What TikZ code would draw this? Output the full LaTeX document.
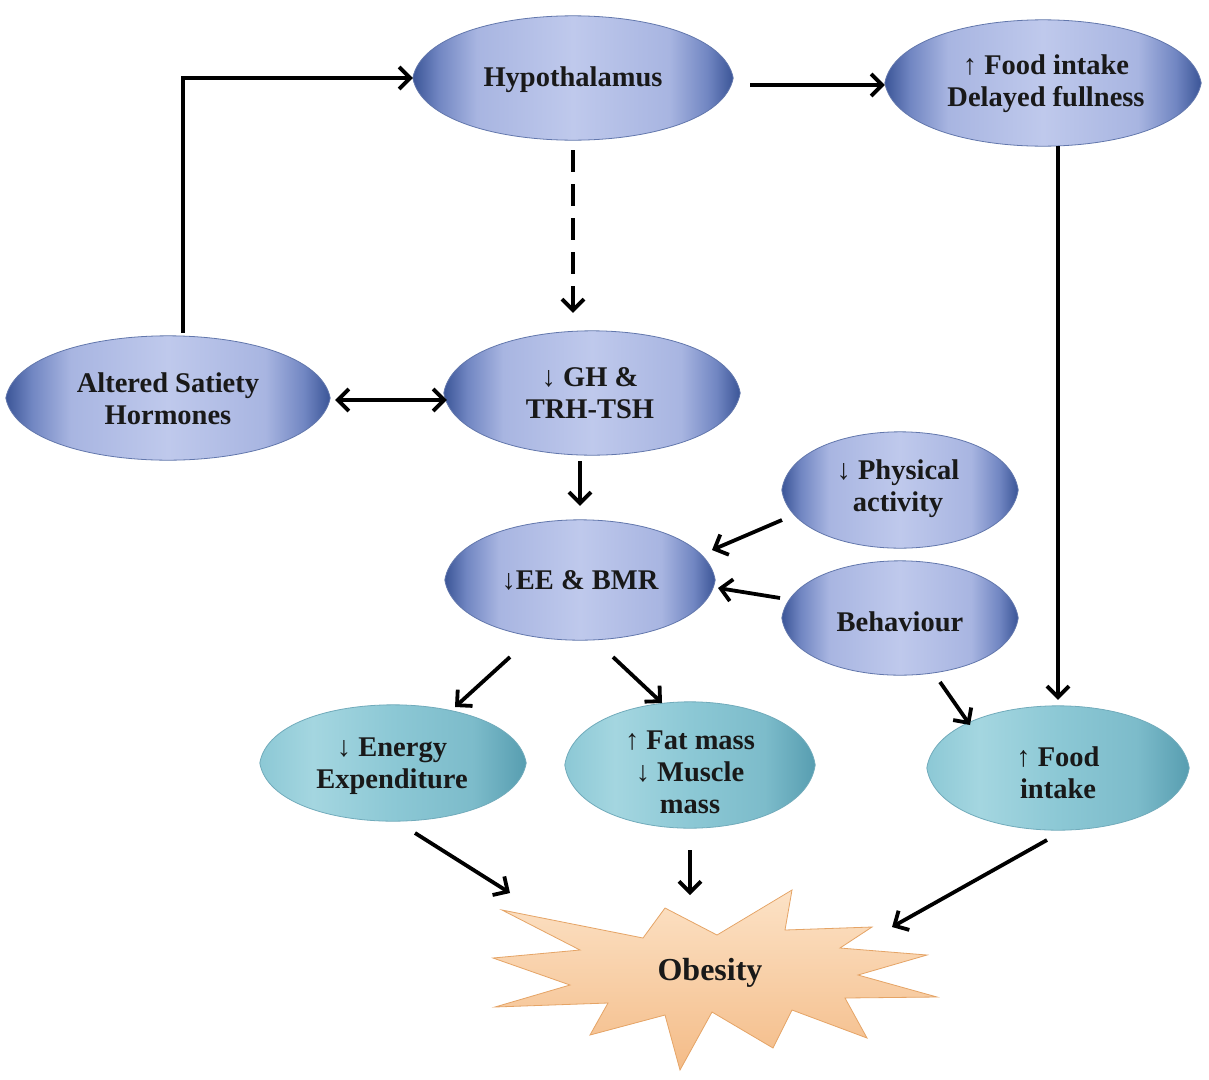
\documentclass[tikz,border=0pt]{standalone}
\usepackage{fontspec}
\setmainfont{Liberation Serif}
\usetikzlibrary{arrows.meta,calc,backgrounds,shapes.geometric}
\definecolor{bD}{HTML}{3B5597}
\definecolor{bM}{HTML}{7186C2}
\definecolor{bL}{HTML}{A8B5E1}
\definecolor{bC}{HTML}{BFC9EC}
\definecolor{tL}{HTML}{A4D6E0}
\definecolor{tM}{HTML}{8CC8D5}
\definecolor{tD}{HTML}{4E96AA}
\definecolor{pkT}{HTML}{FCE2C6}
\definecolor{pkB}{HTML}{F4BC88}
\definecolor{pkE}{HTML}{E5A466}
\pgfdeclarehorizontalshading{lensblue}{100bp}{color(0bp)=(bD); color(25bp)=(bD); color(29bp)=(bM); color(35bp)=(bL); color(50bp)=(bC); color(65bp)=(bL); color(71bp)=(bM); color(75bp)=(bD); color(100bp)=(bD)}
\pgfdeclarehorizontalshading{lensteal}{100bp}{color(0bp)=(tM); color(25bp)=(tM); color(35bp)=(tL); color(50bp)=(tM); color(65bp)=(tM!75!tD); color(75bp)=(tD!85!tM); color(100bp)=(tD)}
\newcommand\lensfill[3]{%
  \path[shading=#2, draw=#3, line width=0.8pt] (#1.west)
   .. controls ($(#1.west)!0.05!(#1.east)+1.333*(#1.north)-1.333*(#1.center)$) and ($(#1.east)!0.05!(#1.west)+1.333*(#1.north)-1.333*(#1.center)$) .. (#1.east)
   .. controls ($(#1.east)!0.05!(#1.west)+1.333*(#1.south)-1.333*(#1.center)$) and ($(#1.west)!0.05!(#1.east)+1.333*(#1.south)-1.333*(#1.center)$) .. (#1.west) -- cycle;}
\tikzset{
  shp/.style={ellipse, inner sep=0pt, draw=none},
  txt/.style={align=center, inner sep=0pt, font=\bfseries\fontsize{28.5}{32}\selectfont, text=black!90},
  arr/.style={line width=3.8pt, -{Straight Barb[length=11pt,width=22pt]}},
  darr/.style={line width=3.8pt, {Straight Barb[length=11pt,width=22pt]}-{Straight Barb[length=11pt,width=22pt]}}
}
\begin{document}
\begin{tikzpicture}[x=1pt,y=-1pt]
\useasboundingbox[fill=white] (0,0) rectangle (1209,1079);
% shapes
\node[shp, minimum width=320, minimum height=124] (hyp) at (573,78) {};
\node[shp, minimum width=316, minimum height=126] (food1) at (1043,83) {};
\node[shp, minimum width=324, minimum height=124] (alt) at (168,398) {};
\node[shp, minimum width=296, minimum height=124] (gh) at (592,393) {};
\node[shp, minimum width=236, minimum height=116] (phys) at (900,490) {};
\node[shp, minimum width=236, minimum height=114] (beh) at (900,618) {};
\node[shp, minimum width=270, minimum height=120] (ee) at (580,580) {};
\node[shp, minimum width=266, minimum height=116] (enx) at (393,763) {};
\node[shp, minimum width=250, minimum height=126] (fat) at (690,765) {};
\node[shp, minimum width=262, minimum height=124] (food2) at (1058,768) {};
\foreach \n in {hyp,food1,alt,gh,phys,beh,ee}{\lensfill{\n}{lensblue}{bD!80}}
\foreach \n in {enx,fat,food2}{\lensfill{\n}{lensteal}{tD!80}}
% starburst
\path[top color=pkT, bottom color=pkB, draw=pkE, line width=0.8pt]
 (502,910) -- (643,938) -- (665,908) -- (717,935) -- (792,890) -- (785,930) -- (872,927) -- (840,948) -- (927,955) -- (858,975) -- (937,997) -- (845,998) -- (867,1038) -- (792,1010) -- (773,1048) -- (712,1012) -- (680,1070) -- (665,1015) -- (590,1035) -- (608,1003) -- (495,1007) -- (570,985) -- (493,958) -- (580,950) -- cycle;
\node[txt, font=\bfseries\fontsize{32}{36}\selectfont] (obe) at (710,973) {Obesity};
% texts
\node[txt] (hyptxt) at (573,80) {Hypothalamus};
\node[txt] (food1txt) at (1046,84) {↑ Food intake\\Delayed fullness};
\node[txt] (alttxt) at (168,399) {Altered Satiety\\Hormones};
\node[txt] (ghtxt) at (590,393) {↓ GH \&\\TRH-TSH};
\node[txt] (phystxt) at (898,489) {↓ Physical\\activity};
\node[txt] (behtxt) at (900,622) {Behaviour};
\node[txt] (eetxt) at (580,580) {↓EE \& BMR};
\node[txt] (enxtxt) at (392,766) {↓ Energy\\Expenditure};
\node[txt] (fattxt) at (690,772) {↑ Fat mass\\↓ Muscle\\mass};
\node[txt] (food2txt) at (1058,773) {↑ Food\\intake};
% connectors
\draw[arr] ($(alt)+(15,-65)$) |- (hyp.west);
\draw[arr] ($(hyp.east |- food1.west)+(17,2)$) -- ($(food1.west)+(0,2)$);
\draw[arr, dash pattern=on 22pt off 12pt] ($(hyp.south)+(0,10)$) -- ($(hyp.south |- gh.north)+(0,-18)$);
\draw[darr] ($(alt.east)+(5,2)$) -- ($(alt.east -| gh.west)+(3,2)$);
\draw[arr] ($(ee.north |- gh.south)+(0,6)$) -- ($(ee.north)+(0,-14)$);
\draw[arr] ($(phys)+(-118,30)$) -- ($(ee)+(132,-30)$);
\draw[arr] ($(beh)+(-120,-20)$) -- ($(ee)+(138,8)$);
\draw[arr] ($(food1.south -| food2.north)+(0,0)$) -- ($(food2.north)+(0,-6)$);
\draw[arr] ($(beh)+(40,64)$) -- ($(food2)+(-88,-43)$);
\draw[arr] ($(ee)+(-70,77)$) -- ($(enx)+(62,-56)$);
\draw[arr] ($(ee)+(33,77)$) -- ($(fat)+(-28,-62)$);
\draw[arr] ($(enx)+(22,70)$) -- ($(obe)+(-200,-80)$);
\draw[arr] ($(fat.south)+(0,22)$) -- ($(fat.south |- obe)+(0,-78)$);
\draw[arr] ($(food2)+(-11,72)$) -- ($(obe)+(182,-46)$);
\end{tikzpicture}
\end{document}
